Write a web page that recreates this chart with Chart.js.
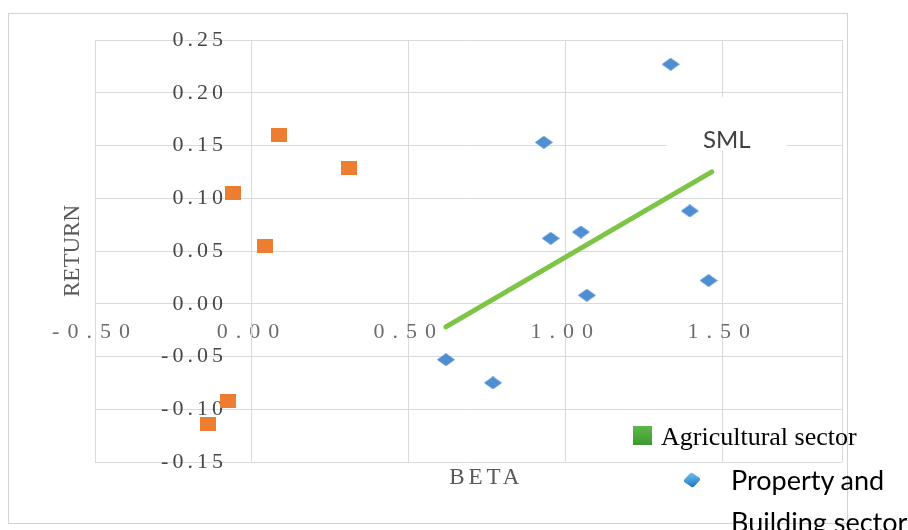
<!DOCTYPE html>
<html>
<head>
<meta charset="utf-8">
<script src="https://cdn.jsdelivr.net/npm/chart.js@4"></script>
<style>
  body { margin: 0; background: #fff; }
  #wrap { position: relative; width: 908px; height: 530px; overflow: hidden; }
  #frame { position: absolute; left: 8px; top: 13px; width: 840px; height: 511px; box-sizing: border-box; border: 1px solid #d4d4d4; }
  #chart { position: absolute; left: 0; top: 0; }
  .sw { position: absolute; }
  .lbl { position: absolute; color: #000; white-space: nowrap; }
</style>
</head>
<body>
<div id="wrap">
  <div id="frame"></div>
  <canvas id="chart" width="908" height="530"></canvas>
  <div id="legend"></div>
</div>
<script>
const seriesNames = ['Agricultural sector', 'Property and Building sector', 'SML'];

const agriBeta = [0.086, 0.309, -0.061, 0.041, -0.076, -0.140];
const agriReturn = [0.160, 0.129, 0.105, 0.055, -0.092, -0.114];

const propBeta = [1.334, 0.930, 1.395, 1.048, 0.952, 1.067, 1.455, 0.618, 0.768];
const propReturn = [0.227, 0.153, 0.088, 0.068, 0.062, 0.008, 0.022, -0.053, -0.075];

const smlBeta = [0.618, 1.465];
const smlReturn = [-0.022, 0.125];

const xTicks = [-0.5, 0, 0.5, 1.0, 1.5, 1.88];
const yTicks = [-0.15, -0.10, -0.05, 0, 0.05, 0.10, 0.15, 0.20, 0.25];

const serif = "'Liberation Serif', 'Times New Roman', serif";
const gridColor = '#dadada';

function toPoints(xs, ys) {
    return xs.map((x, i) => ({ x: x, y: ys[i] }));
}

function makeMarker(w, h, paint) {
    const c = document.createElement('canvas');
    c.width = w;
    c.height = h;
    paint(c.getContext('2d'), w, h);
    return c;
}

const squareMark = makeMarker(16, 14, (g, w, h) => {
    g.fillStyle = '#ed7d31';
    g.fillRect(0, 0, w, h);
});

const diamondMark = makeMarker(18, 13, (g, w, h) => {
    g.fillStyle = '#4f8fd1';
    g.beginPath();
    g.moveTo(w / 2, 0);
    g.lineTo(w, h / 2);
    g.lineTo(w / 2, h);
    g.lineTo(0, h / 2);
    g.closePath();
    g.fill();
});

// letter spacing (and a sideways shift) for the axis texts
const letterGaps = { x: { labels: 8 }, y: { labels: 4, dx: -25 }, xTitle: { title: 4 } };

function wrapWithGap(scale, name, gap, dx) {
    if (!gap) return;
    const base = scale[name];
    scale[name] = function (...args) {
        const ctx = this.ctx;
        ctx.save();
        ctx.letterSpacing = gap + 'px';
        if (dx) ctx.translate(dx, 0);
        base.apply(this, args);
        ctx.restore();
    };
}

const spacingPlugin = {
    id: 'spacing',
    afterUpdate(chart) {
        for (const id in letterGaps) {
            const scale = chart.scales[id];
            if (!scale || scale._gapPatched) continue;
            const g = letterGaps[id];
            wrapWithGap(scale, 'drawLabels', g.labels, g.dx);
            wrapWithGap(scale, 'drawTitle', g.title, 0);
            scale._gapPatched = true;
        }
    }
};

// "SML" label at the end of the line, on a white box
const smlLabel = {
    id: 'smlLabel',
    beforeDatasetsDraw(chart) {
        const pts = chart.getDatasetMeta(2).data;
        const end = pts[pts.length - 1];
        const ctx = chart.ctx;
        ctx.save();
        ctx.fillStyle = '#ffffff';
        ctx.fillRect(end.x - 45, end.y - 75, 120, 54);
        ctx.font = '24px Lato';
        ctx.fillStyle = '#404040';
        ctx.textAlign = 'center';
        ctx.textBaseline = 'middle';
        ctx.fillText(seriesNames[2], end.x + 15, end.y - 32);
        ctx.restore();
    }
};

const ctx = document.getElementById('chart').getContext('2d');
new Chart(ctx, {
    type: 'scatter',
    data: {
        datasets: [{
            label: seriesNames[0],
            data: toPoints(agriBeta, agriReturn),
            pointStyle: squareMark,
            backgroundColor: '#ed7d31',
            borderColor: '#ed7d31'
        }, {
            label: seriesNames[1],
            data: toPoints(propBeta, propReturn),
            pointStyle: diamondMark,
            backgroundColor: '#4f8fd1',
            borderColor: '#4f8fd1'
        }, {
            label: seriesNames[2],
            data: toPoints(smlBeta, smlReturn),
            showLine: true,
            pointRadius: 0,
            borderColor: '#7ec447',
            borderWidth: 5,
            borderCapStyle: 'round'
        }]
    },
    options: {
        responsive: false,
        animation: false,
        layout: { padding: { left: 61, top: 40, right: 66, bottom: 41 } },
        plugins: {
            legend: { display: false },
            tooltip: { enabled: false }
        },
        scales: {
            x: {
                type: 'linear',
                position: { y: 0 },
                min: -0.5,
                max: 1.88,
                afterBuildTicks: scale => { scale.ticks = xTicks.map(v => ({ value: v })); },
                grid: { color: gridColor, drawTicks: false },
                border: { color: gridColor },
                ticks: {
                    padding: 15,
                    color: '#6c6c6c',
                    font: { family: serif, size: 22 },
                    callback: v => (v > 1.6 ? '' : v.toFixed(2))
                }
            },
            y: {
                type: 'linear',
                position: { x: 0 },
                min: -0.15,
                max: 0.25,
                afterBuildTicks: scale => { scale.ticks = yTicks.map(v => ({ value: v })); },
                grid: { color: gridColor, drawTicks: false },
                border: { color: gridColor },
                ticks: {
                    padding: 0,
                    color: '#474747',
                    font: { family: serif, size: 22 },
                    callback: v => v.toFixed(2)
                }
            },
            xTitle: {
                axis: 'x',
                type: 'linear',
                position: 'bottom',
                grid: { display: false, drawTicks: false },
                border: { display: false },
                ticks: { display: false },
                title: {
                    display: true,
                    text: '\u2003\u2009BETA',
                    color: '#595959',
                    font: { family: serif, size: 23, lineHeight: 1 },
                    padding: { top: 4, bottom: 0 }
                }
            },
            yTitle: {
                axis: 'y',
                type: 'linear',
                position: 'left',
                grid: { display: false, drawTicks: false },
                border: { display: false },
                ticks: { display: false },
                title: {
                    display: true,
                    text: 'RETURN',
                    color: '#595959',
                    font: { family: serif, size: 23, lineHeight: 1 },
                    padding: { top: 0, bottom: 11 }
                }
            }
        }
    },
    plugins: [spacingPlugin, smlLabel]
});

// legend, laid over the corner as in the original
const legend = document.getElementById('legend');
legend.innerHTML = `
    <div class="sw" style="left:633px;top:426px;width:19px;height:19px;background:linear-gradient(#5cb84a,#3e9a2f);"></div>
    <div class="lbl" style="left:661px;top:424px;font:26px/1 ${serif};">${seriesNames[0]}</div>
    <div class="sw" style="left:686px;top:474px;width:12px;height:12px;border-radius:2px;transform:rotate(35deg) skewX(-8deg);background:linear-gradient(135deg,#6cc3f2,#1e74bc);"></div>
    <div class="lbl" style="left:731px;top:459px;width:180px;white-space:normal;font:27px/42px Lato, 'Open Sans', sans-serif;">${seriesNames[1].replace(' Building', '<br>Building')}</div>
`;
</script>
</body>
</html>
